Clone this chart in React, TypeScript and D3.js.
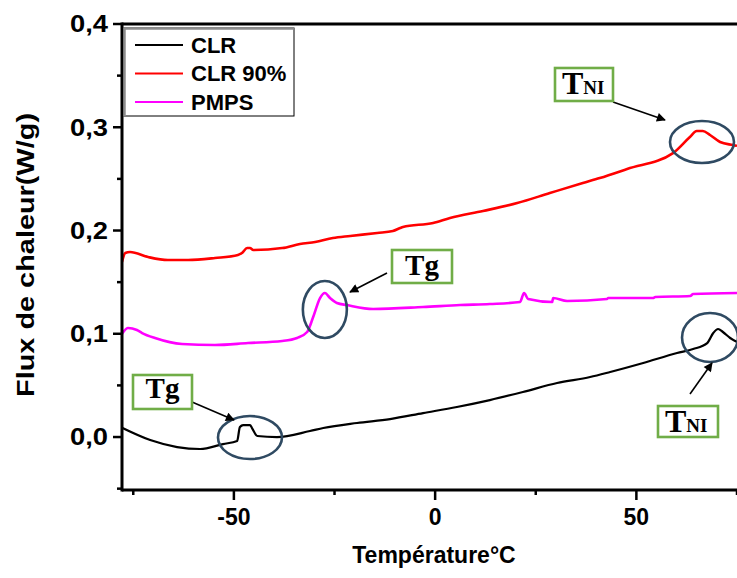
import React from 'react';
import * as d3 from 'd3';

// DSC thermograms: temperature (°C) vs heat flow (W/g)
const clrTemp = [-77.8, -70.8, -64.1, -58.4, -52.7, -49.2, -48.5, -47.7, -46.0, -45.5, -44.2, -39.3, -31.1, -27.8, -19.4, -11.2, -3.0, 5.4, 13.6, 21.8, 30.3, 38.5, 43.5, 51.7, 60.1, 64.1, 67.6, 69.1, 70.3, 71.5, 73.3, 75.0];
const clrFlux = [0.0090, -0.0029, -0.0097, -0.0116, -0.0068, -0.0039, 0.0097, 0.0116, 0.0116, 0.0087, 0.0010, 0.0000, 0.0058, 0.0087, 0.0136, 0.0174, 0.0232, 0.0291, 0.0358, 0.0436, 0.0523, 0.0581, 0.0630, 0.0717, 0.0814, 0.0852, 0.0910, 0.1007, 0.1046, 0.1017, 0.0959, 0.0920];

const clr90Temp = [-77.8, -77.0, -75.8, -71.3, -66.4, -61.4, -54.7, -49.0, -48.0, -46.7, -46.0, -45.2, -38.0, -33.6, -29.8, -25.4, -21.1, -14.4, -10.5, -8.7, -8.0, -0.5, 3.7, 11.9, 20.4, 28.5, 36.7, 40.9, 47.7, 59.1, 63.3, 65.0, 66.5, 68.3, 70.8, 74.0, 75.0];
const clr90Flux = [0.1695, 0.1782, 0.1792, 0.1743, 0.1714, 0.1714, 0.1734, 0.1763, 0.1782, 0.1830, 0.1830, 0.1811, 0.1830, 0.1869, 0.1889, 0.1927, 0.1947, 0.1976, 0.1995, 0.2024, 0.2034, 0.2073, 0.2121, 0.2189, 0.2266, 0.2363, 0.2460, 0.2508, 0.2596, 0.2750, 0.2906, 0.2964, 0.2964, 0.2925, 0.2857, 0.2828, 0.2820];

const pmpsTemp = [-77.8, -76.3, -74.1, -72.8, -69.6, -62.9, -54.7, -46.5, -38.0, -34.3, -31.8, -30.3, -28.6, -27.4, -26.1, -24.4, -21.9, -15.4, -3.0, 6.2, 13.6, 21.1, 22.1, 23.1, 29.1, 29.3, 32.8, 42.7, 43.0, 54.1, 54.7, 63.4, 64.1, 75.0];
const pmpsFlux = [0.1000, 0.1056, 0.1036, 0.1007, 0.0959, 0.0901, 0.0891, 0.0910, 0.0930, 0.0959, 0.1017, 0.1162, 0.1346, 0.1395, 0.1346, 0.1298, 0.1278, 0.1240, 0.1259, 0.1278, 0.1288, 0.1308, 0.1395, 0.1337, 0.1308, 0.1346, 0.1317, 0.1337, 0.1346, 0.1346, 0.1356, 0.1366, 0.1385, 0.1395];

const seriesNames = ['CLR', 'CLR 90%', 'PMPS'];
const seriesColors = ['#000000', '#ff0000', '#ff00ff'];

const xMajorTicks = [-50, 0, 50];
const xMajorLabels = ['-50', '0', '50'];
const xMinorTicks = [-75, -25, 25, 75];
const yMajorTicks = [0, 0.1, 0.2, 0.3, 0.4];
const yMajorLabels = ['0,0', '0,1', '0,2', '0,3', '0,4'];
const yMinorTicks = [-0.05, 0.05, 0.15, 0.25, 0.35];

// transition markers: [temperature, flux] centre of each highlight ring
const ringCentres: [number, number][] = [[66.3, 0.2857], [-46.0, -0.0005], [-27.4, 0.1235], [68.3, 0.0964]];

const W = 737;
const H = 578;
const M = { left: 122, right: 737, top: 24, bottom: 490 };

const SANS = '"Liberation Sans", Arial, sans-serif';
const SERIF = '"Liberation Serif", "Times New Roman", serif';

export default function App() {
  const x = d3.scaleLinear().domain([-77.8, 75]).range([M.left, M.right]);
  const y = d3.scaleLinear().domain([-0.0513, 0.4]).range([M.bottom, M.top]);
  const line = d3
    .line<[number, number]>()
    .x((d) => x(d[0]))
    .y((d) => y(d[1]))
    .curve(d3.curveMonotoneX);

  const series = [
    { t: clrTemp, f: clrFlux, w: 2.2 },
    { t: clr90Temp, f: clr90Flux, w: 2.6 },
    { t: pmpsTemp, f: pmpsFlux, w: 2.6 },
  ];

  const ringSize = [
    [32, 21],
    [32, 21.5],
    [22, 28.5],
    [28, 24.5],
  ];
  const ringColor = '#2f4a62';
  const boxColor = '#70ad47';

  const tagBox = (bx: number, by: number, bw: number, bh: number, key: string) => (
    <rect key={key} x={bx} y={by} width={bw} height={bh} fill="#fff" stroke={boxColor} strokeWidth={2.6} />
  );

  return (
    <svg width={W} height={H} style={{ position: 'absolute', left: 0, top: 0, background: '#fff' }}>
      <defs>
        <clipPath id="plotArea">
          <rect x={M.left} y={M.top} width={M.right - M.left + 2} height={M.bottom - M.top} />
        </clipPath>
        <marker id="head" viewBox="0 0 10 10" refX="9" refY="5" markerWidth="11" markerHeight="9" markerUnits="userSpaceOnUse" orient="auto">
          <path d="M0,0 L10,5 L0,10 z" fill="#000" />
        </marker>
      </defs>
      <rect x={0} y={0} width={W} height={H} fill="#fff" />

      {/* curves */}
      <g clipPath="url(#plotArea)">
        {series.map((s, i) => (
          <path
            key={seriesNames[i]}
            d={line(s.t.map((t, j) => [t, s.f[j]] as [number, number])) || ''}
            fill="none"
            stroke={seriesColors[i]}
            strokeWidth={s.w}
            strokeLinejoin="round"
          />
        ))}
      </g>

      {/* axes frame */}
      <line x1={M.left} x2={M.left} y1={M.top - 1.5} y2={M.bottom + 1.5} stroke="#000" strokeWidth={3} />
      <line x1={M.left} x2={M.right} y1={M.bottom} y2={M.bottom} stroke="#000" strokeWidth={3} />
      <line x1={M.left} x2={M.right} y1={M.top} y2={M.top} stroke="#000" strokeWidth={3} />

      {/* y ticks */}
      {yMajorTicks.map((v, i) => (
        <g key={'ym' + v}>
          <line x1={M.left - 9} x2={M.left} y1={y(v)} y2={y(v)} stroke="#000" strokeWidth={2.5} />
          <text
            x={108}
            y={y(v)}
            dy="0.36em"
            textAnchor="end"
            fontFamily={SANS}
            fontWeight="bold"
            fontSize={23}
            textLength={38}
            lengthAdjust="spacingAndGlyphs"
          >
            {yMajorLabels[i]}
          </text>
        </g>
      ))}
      {yMinorTicks.map((v) => (
        <line key={'yn' + v} x1={M.left - 5} x2={M.left} y1={y(v)} y2={y(v)} stroke="#000" strokeWidth={2.5} />
      ))}

      {/* x ticks */}
      {xMajorTicks.map((v, i) => (
        <g key={'xm' + v}>
          <line x1={x(v)} x2={x(v)} y1={M.bottom} y2={M.bottom + 10} stroke="#000" strokeWidth={2.5} />
          <text x={x(v)} y={525} textAnchor="middle" fontFamily={SANS} fontWeight="bold" fontSize={23}>
            {xMajorLabels[i]}
          </text>
        </g>
      ))}
      {xMinorTicks.map((v) => (
        <line key={'xn' + v} x1={x(v)} x2={x(v)} y1={M.bottom} y2={M.bottom + 5} stroke="#000" strokeWidth={2.5} />
      ))}

      {/* axis titles */}
      <text x={434} y={563} textAnchor="middle" fontFamily={SANS} fontWeight="bold" fontSize={23}>
        Température°C
      </text>
      <text
        transform="translate(34,255) rotate(-90)"
        textAnchor="middle"
        fontFamily={SANS}
        fontWeight="bold"
        fontSize={24}
        textLength={284}
        lengthAdjust="spacingAndGlyphs"
      >
        Flux de chaleur(W/g)
      </text>

      {/* legend */}
      <g>
        <rect x={124} y={28} width={170} height={88} fill="#fff" stroke="#000" strokeWidth={1} />
        <line x1={124} x2={294} y1={28.5} y2={28.5} stroke="#8c8c8c" strokeWidth={2.5} />
        <line x1={124.5} x2={124.5} y1={28} y2={116} stroke="#8c8c8c" strokeWidth={2.5} />
        {seriesNames.map((n, i) => (
          <g key={'lg' + n}>
            <line x1={135} x2={183} y1={45 + i * 28.5} y2={45 + i * 28.5} stroke={seriesColors[i]} strokeWidth={2.2} />
            <text x={191} y={45 + i * 28.5} dy="0.36em" fontFamily={SANS} fontWeight="bold" fontSize={22}>
              {n}
            </text>
          </g>
        ))}
      </g>

      {/* highlight rings */}
      {ringCentres.map((c, i) => (
        <ellipse
          key={'ring' + i}
          cx={x(c[0])}
          cy={y(c[1])}
          rx={ringSize[i][0]}
          ry={ringSize[i][1]}
          fill="none"
          stroke={ringColor}
          strokeWidth={2.6}
        />
      ))}

      {/* arrows */}
      <line x1={613} y1={102} x2={665} y2={120} stroke="#000" strokeWidth={1.6} markerEnd="url(#head)" />
      <line x1={192} y1={402} x2={234} y2={420} stroke="#000" strokeWidth={1.6} markerEnd="url(#head)" />
      <line x1={387} y1={273} x2={350} y2={292} stroke="#000" strokeWidth={1.6} markerEnd="url(#head)" />
      <line x1={690} y1={394} x2={712} y2={363} stroke="#000" strokeWidth={1.6} markerEnd="url(#head)" />

      {/* labels */}
      {tagBox(555, 68, 58, 33, 'b1')}
      <text x={562} y={94} fontFamily={SERIF} fontWeight="bold" fontSize={32}>
        T<tspan fontSize={19}>NI</tspan>
      </text>

      {tagBox(133, 375, 59, 34, 'b2')}
      <text x={162.5} y={398} textAnchor="middle" fontFamily={SERIF} fontWeight="bold" fontSize={29}>
        Tg
      </text>

      {tagBox(392, 250, 60, 33, 'b3')}
      <text x={422} y={275} textAnchor="middle" fontFamily={SERIF} fontWeight="bold" fontSize={29}>
        Tg
      </text>

      {tagBox(658, 406, 60, 31, 'b4')}
      <text x={665} y={432} fontFamily={SERIF} fontWeight="bold" fontSize={32}>
        T<tspan fontSize={19}>NI</tspan>
      </text>
    </svg>
  );
}
